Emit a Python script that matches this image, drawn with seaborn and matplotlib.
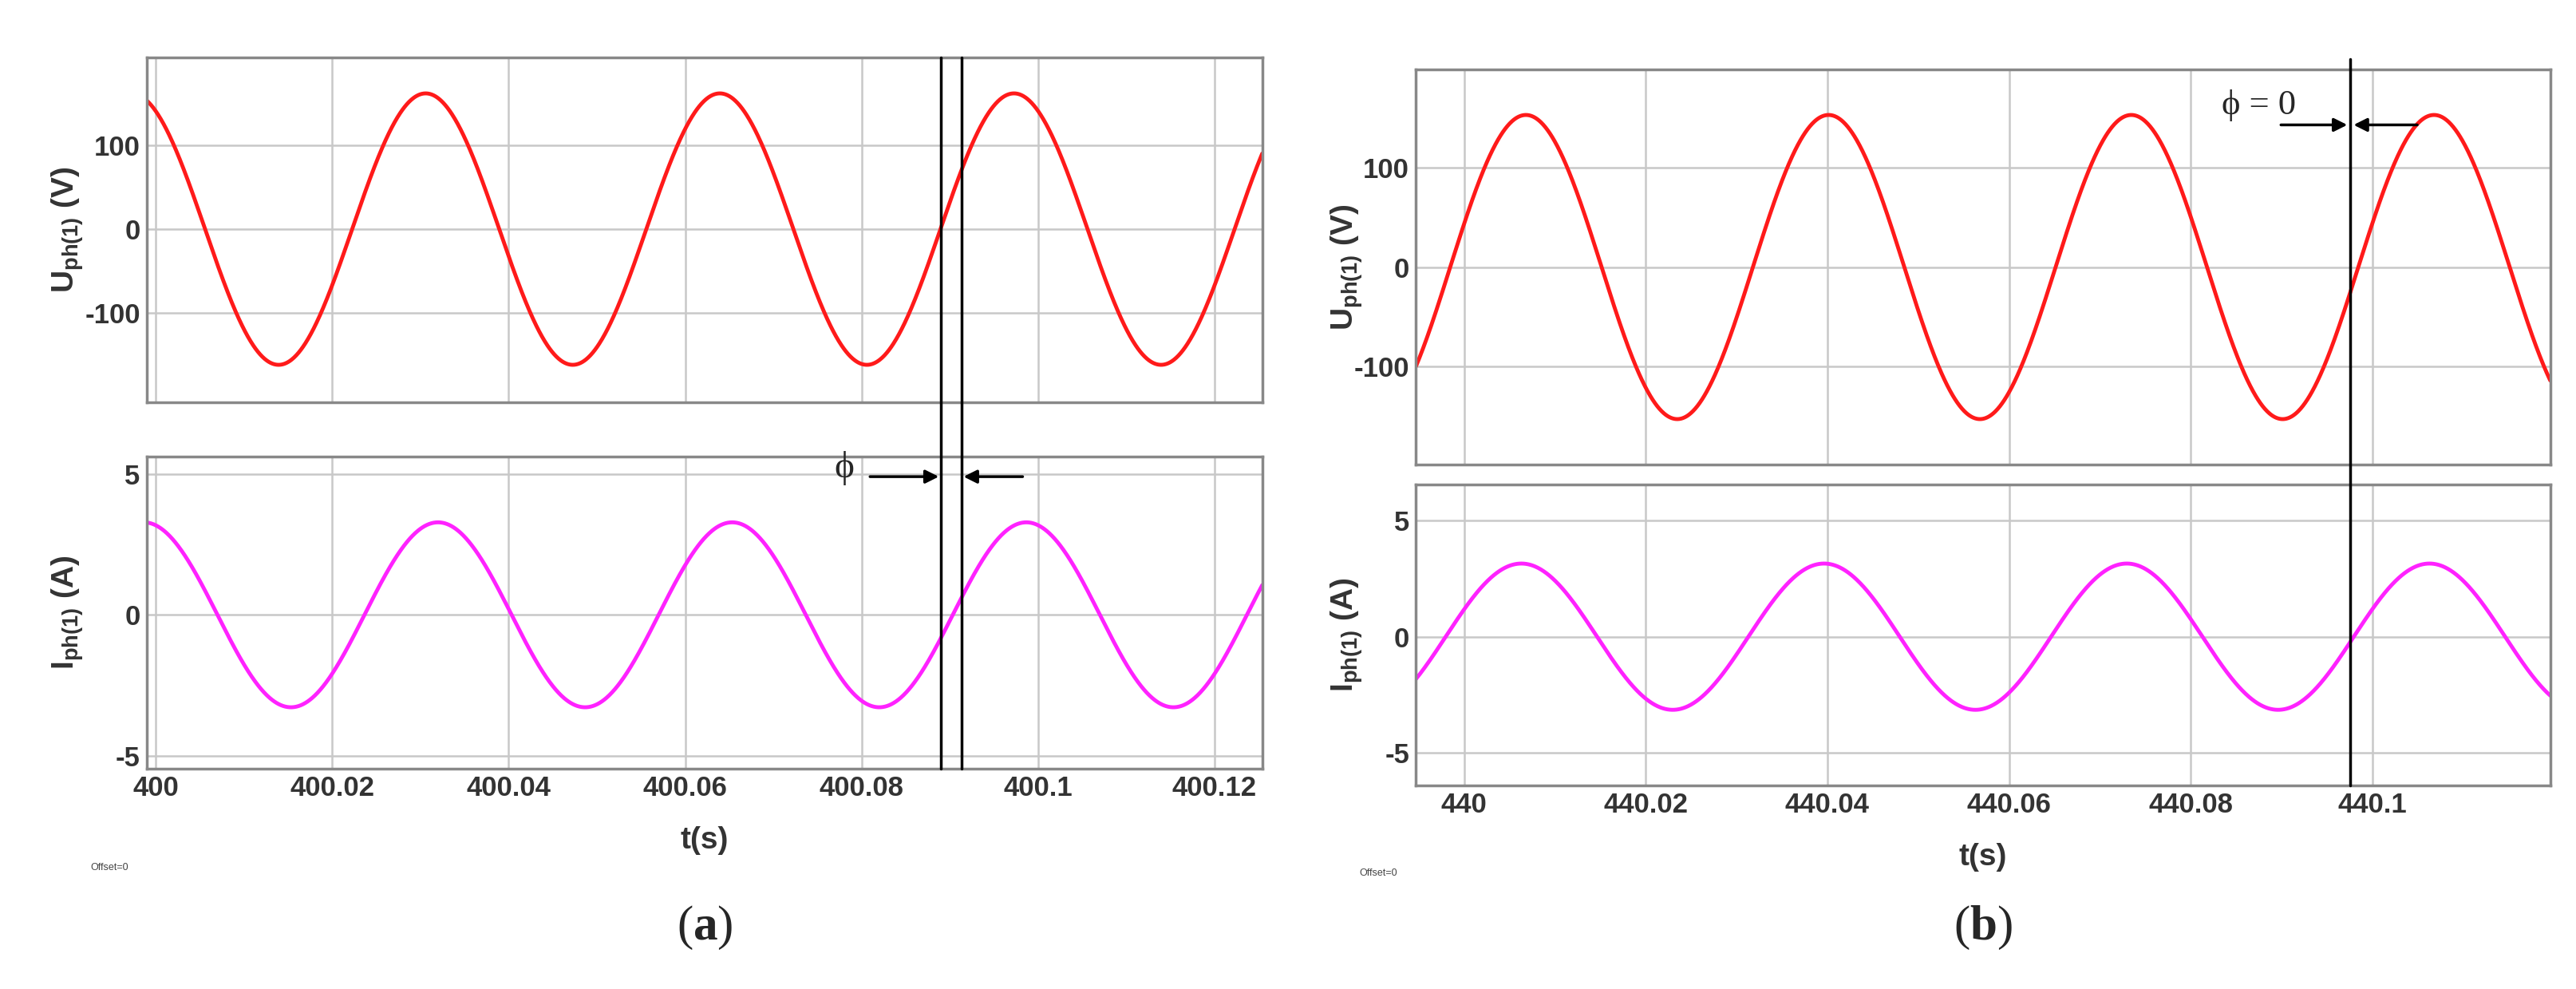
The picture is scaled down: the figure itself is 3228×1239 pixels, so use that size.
import numpy as np
import pandas as pd
import matplotlib
matplotlib.use("Agg")
import matplotlib.pyplot as plt
import seaborn as sns

sns.set_style("white")
plt.rcParams['font.family'] = ['Liberation Sans', 'DejaVu Sans']
plt.rcParams['mathtext.default'] = 'regular'
plt.rcParams['mathtext.fontset'] = 'custom'
plt.rcParams['mathtext.bf'] = 'Liberation Serif:bold'

# Panel data: sine parameters of each trace
freq_hz = 30.0
xlim_a = [399.999, 400.1254]
xlim_b = [439.9947, 440.1196]
v_amp_a, v_peak_a = 162.0, 400.0306
i_amp_a, i_peak_a = 3.28, 400.0320
v_amp_b, v_peak_b = 153.0, 440.0068
i_amp_b, i_peak_b = 3.15, 440.0063
cursor_a = [400.0890, 400.0913]
cursor_b = [440.0976]
xticks_a = [400, 400.02, 400.04, 400.06, 400.08, 400.1, 400.12]
xtick_labels_a = ["400", "400.02", "400.04", "400.06", "400.08", "400.1", "400.12"]
xticks_b = [440, 440.02, 440.04, 440.06, 440.08, 440.1]
xtick_labels_b = ["440", "440.02", "440.04", "440.06", "440.08", "440.1"]
vlim_a, ilim_a = [-207, 205], [-5.45, 5.6]
vlim_b, ilim_b = [-199, 199], [-6.4, 6.55]

fig = plt.figure(figsize=(32.28, 12.39), dpi=100)

def make(t0, t1, amp, peak):
    t = np.linspace(t0, t1, 2000)
    return pd.DataFrame({"t": t, "y": amp * np.cos(2 * np.pi * freq_hz * (t - peak))})

def style(ax, xlim, ylim, yticks, xticks, xlabels, show_x):
    ax.set_xlim(xlim); ax.set_ylim(ylim)
    ax.set_yticks(yticks)
    ax.set_yticklabels([str(v) for v in yticks], fontsize=25, fontweight='bold', color='#333333')
    ax.set_xticks(xticks)
    if show_x:
        ax.set_xticklabels(xlabels, fontsize=25, fontweight='bold', color='#333333')
    else:
        ax.set_xticklabels([])
    ax.grid(True, color='#c8c8c8', lw=1.8)
    for s in ax.spines.values():
        s.set_color('#888888'); s.set_linewidth(2.5)
    ax.tick_params(length=0, pad=6)
    ax.set_xlabel(''); ax.set_ylabel('')

panels = [
    dict(l=0.057, r=0.49, vt=0.942, vb=0.593, it=0.538, ib=0.223, xlim=xlim_a,
         v=(v_amp_a, v_peak_a), i=(i_amp_a, i_peak_a), vlim=vlim_a, ilim=ilim_a,
         xt=xticks_a, xl=xtick_labels_a, cur=cursor_a, tag='a', tl_y=0.15, tag_y=0.062, off_y=0.12, ylx=-0.055, ltop=0.942),
    dict(l=0.5497, r=0.99, vt=0.930, vb=0.530, it=0.510, ib=0.206, xlim=xlim_b,
         v=(v_amp_b, v_peak_b), i=(i_amp_b, i_peak_b), vlim=vlim_b, ilim=ilim_b,
         xt=xticks_b, xl=xtick_labels_b, cur=cursor_b, tag='b', tl_y=0.133, tag_y=0.062, off_y=0.115, ylx=-0.045, ltop=0.94),
]

for p in panels:
    w = p['r'] - p['l']
    axv = fig.add_axes([p['l'], p['vb'], w, p['vt'] - p['vb']])
    axi = fig.add_axes([p['l'], p['ib'], w, p['it'] - p['ib']])
    sns.lineplot(data=make(*p['xlim'], *p['v']), x='t', y='y', ax=axv, color='#ff1a1a', lw=3.5)
    sns.lineplot(data=make(*p['xlim'], *p['i']), x='t', y='y', ax=axi, color='#ff22ff', lw=3.5)
    style(axv, p['xlim'], p['vlim'], [-100, 0, 100], p['xt'], p['xl'], False)
    style(axi, p['xlim'], p['ilim'], [-5, 0, 5], p['xt'], p['xl'], True)
    axv.set_ylabel(r'U$_{ph(1)}$ (V)', fontsize=28, fontweight='bold', color='#333333')
    axi.set_ylabel(r'I$_{ph(1)}$ (A)', fontsize=28, fontweight='bold', color='#333333')
    axv.yaxis.set_label_coords(p['ylx'], 0.5)
    axi.yaxis.set_label_coords(p['ylx'], 0.5)
    cx = (p['l'] + p['r']) / 2
    fig.text(cx, p['tl_y'], 't(s)', ha='center', va='center', fontsize=28, fontweight='bold', color='#333333')
    fig.text(cx, p['tag_y'], '($\\mathbf{%s}$)' % p['tag'], ha='center', va='center', fontsize=44, family='Liberation Serif')
    fig.text(p['l'] - 0.022, p['off_y'], 'Offset=0', fontsize=9, color='#444444')
    for c in p['cur']:
        line = matplotlib.lines.Line2D([c, c], [p['ib'], p['ltop']],
                                       transform=matplotlib.transforms.blended_transform_factory(axv.transData, fig.transFigure),
                                       color='black', lw=2.5)
        fig.add_artist(line)

# annotations (a)
axi_a = fig.axes[1]
axi_a.annotate('', xy=(cursor_a[0], 4.9), xytext=(400.0807, 4.9), arrowprops=dict(arrowstyle='-|>', color='black', lw=2.5, mutation_scale=25))
axi_a.annotate('', xy=(cursor_a[1], 4.9), xytext=(400.0985, 4.9), arrowprops=dict(arrowstyle='-|>', color='black', lw=2.5, mutation_scale=25))
axi_a.text(400.0780, 5.2, 'ϕ', fontsize=34, family='Liberation Serif', ha='center', va='center')
# annotations (b)
axv_b = fig.axes[2]
axv_b.annotate('', xy=(cursor_b[0] - 0.0001, 143), xytext=(440.0897, 143), arrowprops=dict(arrowstyle='-|>', color='black', lw=2.5, mutation_scale=25))
axv_b.annotate('', xy=(cursor_b[0] + 0.0001, 143), xytext=(440.1052, 143), arrowprops=dict(arrowstyle='-|>', color='black', lw=2.5, mutation_scale=25))
axv_b.text(440.0875, 163, 'ϕ = 0', fontsize=32, family='Liberation Serif', ha='center', va='center')

fig.savefig('out.png', dpi=100, facecolor='white')
